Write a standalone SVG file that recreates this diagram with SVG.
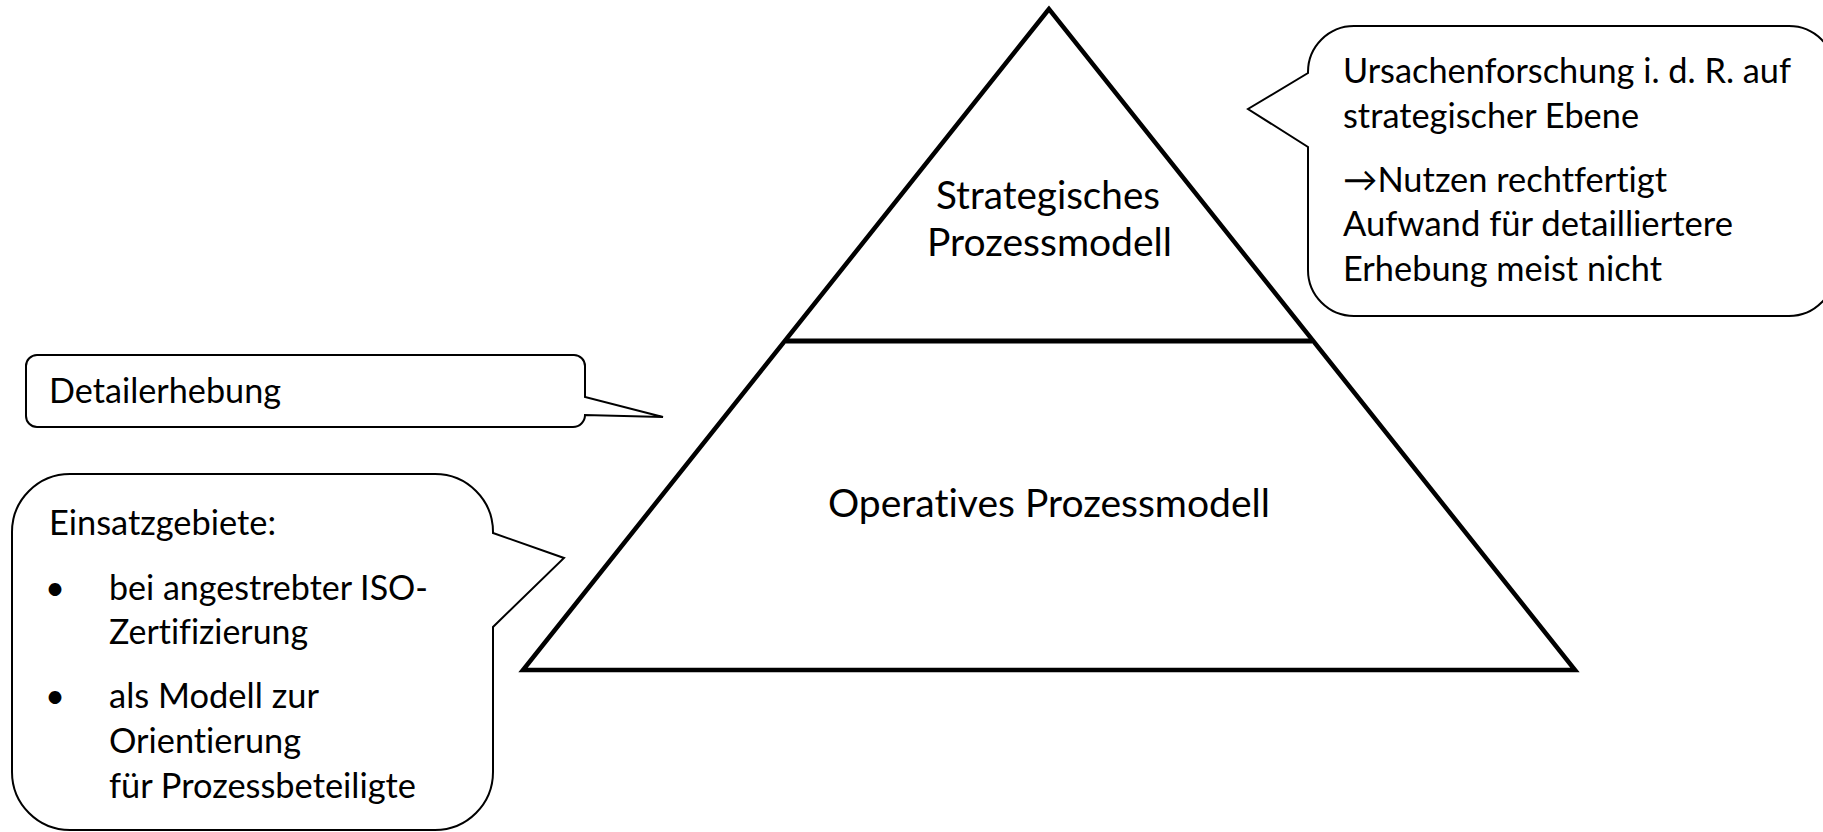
<svg xmlns="http://www.w3.org/2000/svg" width="1823" height="832" viewBox="0 0 1823 832">
<style>
.bg{fill:#ffffff}
.pyr{fill:#ffffff;stroke:#000000;stroke-width:4.5;stroke-linejoin:miter}
.div{stroke:#000000;stroke-width:5;fill:none}
.call{fill:#ffffff;stroke:#000000;stroke-width:2;stroke-linejoin:miter}
.t{font-family:Lato,"Open Sans","Liberation Sans",sans-serif;fill:#000000;font-variant-ligatures:none;font-feature-settings:"liga" 0}
.big{font-size:38px}
.sm{font-size:34.5px}
</style>
<rect class="bg" x="0" y="0" width="1823" height="832"/>

<g id="pyramid">
  <polygon class="pyr" points="1049,9 523,670 1575,670"/>
  <line class="div" x1="786" y1="341" x2="1312" y2="341"/>
</g>

<g id="strategic-label">
  <text class="t big" x="936" y="209" textLength="224" lengthAdjust="spacingAndGlyphs">Strategisches</text>
  <text class="t big" x="927" y="256" textLength="245" lengthAdjust="spacingAndGlyphs">Prozessmodell</text>
</g>

<g id="operative-label">
  <text class="t big" x="828" y="517" textLength="442" lengthAdjust="spacingAndGlyphs">Operatives Prozessmodell</text>
</g>

<g id="callout-right">
  <path class="call" d="M1354,26 L1789,26 A46,46 0 0 1 1835,72 L1835,270 A46,46 0 0 1 1789,316 L1354,316 A46,46 0 0 1 1308,270 L1308,147 L1248,109 L1308,73 L1308,72 A46,46 0 0 1 1354,26 Z"/>
  <text class="t sm" x="1343" y="83" textLength="448" lengthAdjust="spacingAndGlyphs">Ursachenforschung i. d. R. auf</text>
  <text class="t sm" x="1343" y="128" textLength="296" lengthAdjust="spacingAndGlyphs">strategischer Ebene</text>
  <text class="t sm" x="1343" y="192" textLength="324" lengthAdjust="spacingAndGlyphs">→Nutzen rechtfertigt</text>
  <text class="t sm" x="1343" y="236" textLength="390" lengthAdjust="spacingAndGlyphs">Aufwand für detailliertere</text>
  <text class="t sm" x="1343" y="281" textLength="319" lengthAdjust="spacingAndGlyphs">Erhebung meist nicht</text>
</g>

<g id="callout-detail">
  <path class="call" d="M37,355 L574,355 A11,11 0 0 1 585,366 L585,397 L663,417 L585,415 A12,12 0 0 1 573,427 L37,427 A11,11 0 0 1 26,416 L26,366 A11,11 0 0 1 37,355 Z"/>
  <text class="t sm" x="49" y="403" textLength="232" lengthAdjust="spacingAndGlyphs">Detailerhebung</text>
</g>

<g id="callout-usage">
  <path class="call" d="M70,474 L435,474 A58,58 0 0 1 493,532 L493,533 L564,558 L493,627 L493,772 A58,58 0 0 1 435,830 L70,830 A58,58 0 0 1 12,772 L12,532 A58,58 0 0 1 70,474 Z"/>
  <text class="t sm" x="49" y="535" textLength="227" lengthAdjust="spacingAndGlyphs">Einsatzgebiete:</text>
  <text class="t sm" x="55" y="600" text-anchor="middle">•</text>
  <text class="t sm" x="109" y="600" textLength="319" lengthAdjust="spacingAndGlyphs">bei angestrebter ISO-</text>
  <text class="t sm" x="109" y="644" textLength="199" lengthAdjust="spacingAndGlyphs">Zertifizierung</text>
  <text class="t sm" x="55" y="708" text-anchor="middle">•</text>
  <text class="t sm" x="109" y="708" textLength="210" lengthAdjust="spacingAndGlyphs">als Modell zur</text>
  <text class="t sm" x="109" y="753" textLength="192" lengthAdjust="spacingAndGlyphs">Orientierung</text>
  <text class="t sm" x="109" y="798" textLength="307" lengthAdjust="spacingAndGlyphs">für Prozessbeteiligte</text>
</g>
</svg>
